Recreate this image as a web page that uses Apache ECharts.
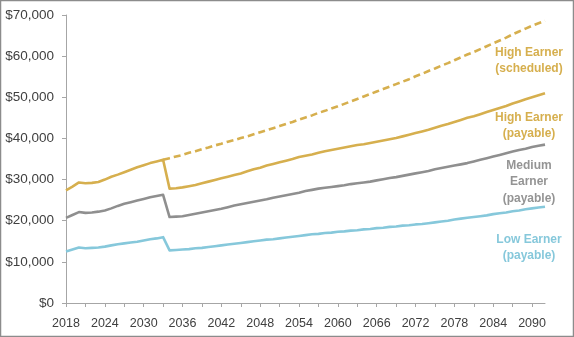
<!DOCTYPE html>
<html>
<head>
<meta charset="utf-8">
<script src="https://cdn.jsdelivr.net/npm/echarts@6/dist/echarts.min.js"></script>
<style>
html,body{margin:0;padding:0;background:#fff;}
#c{width:574px;height:337px;}
</style>
</head>
<body>
<div id="c"></div>
<script>
// Years on the category axis
const years = [];
for (let y = 2018; y <= 2092; y++) years.push(String(y));

// Values in thousands of dollars (2018..2092)
const highPayable = [
27.4,28.3,29.3,29.1,29.2,29.4,30.0,30.7,31.2,31.8,32.4,33.0,33.5,34.0,34.4,34.8,
27.8,27.9,28.1,28.4,28.7,29.1,29.5,29.9,30.3,30.7,31.1,31.5,32.0,32.5,32.9,33.4,33.8,34.2,34.6,35.0,
35.5,35.8,36.1,36.5,36.9,37.2,37.5,37.8,38.1,38.4,38.6,38.9,39.2,39.5,39.8,40.1,40.5,40.9,41.3,41.7,
42.1,42.6,43.1,43.5,44.0,44.5,45.0,45.4,45.9,46.4,46.9,47.4,47.9,48.5,49.0,49.5,50.0,50.5,51.0
];
const highScheduled = [
null,null,null,null,null,null,null,null,null,null,null,null,null,null,null,34.8,
35.2,35.6,36.0,36.5,36.9,37.4,37.8,38.3,38.7,39.2,39.6,40.1,40.5,41.0,41.5,42.0,42.5,43.0,43.5,44.0,
44.6,45.1,45.6,46.2,46.7,47.3,47.8,48.4,49.0,49.6,50.2,50.8,51.4,52.0,52.6,53.2,53.8,54.4,55.1,55.7,
56.4,57.0,57.7,58.3,59.0,59.7,60.4,61.0,61.7,62.4,63.1,63.8,64.5,65.3,66.0,66.7,67.4,68.0,68.6
];
const mediumPayable = [
20.7,21.4,22.1,21.9,22.0,22.2,22.5,23.0,23.6,24.1,24.5,24.9,25.3,25.7,26.0,26.3,
20.9,21.0,21.1,21.4,21.7,22.0,22.3,22.6,22.9,23.3,23.7,24.0,24.3,24.6,24.9,25.2,25.6,25.9,26.2,26.5,
26.8,27.2,27.5,27.8,28.0,28.2,28.4,28.6,28.9,29.1,29.3,29.5,29.8,30.1,30.4,30.6,30.9,31.2,31.5,31.8,
32.1,32.5,32.8,33.1,33.4,33.7,34.0,34.4,34.8,35.2,35.6,36.0,36.4,36.8,37.2,37.5,37.9,38.2,38.5
];
const lowPayable = [
12.5,13.0,13.5,13.3,13.4,13.5,13.7,14.0,14.3,14.5,14.7,14.9,15.2,15.5,15.7,16.0,
12.8,12.9,13.0,13.1,13.3,13.4,13.6,13.8,14.0,14.2,14.4,14.6,14.8,15.0,15.2,15.4,15.5,15.7,15.9,16.1,
16.3,16.5,16.7,16.8,17.0,17.1,17.3,17.4,17.6,17.7,17.9,18.0,18.2,18.3,18.5,18.6,18.8,18.9,19.1,19.2,
19.4,19.6,19.8,20.0,20.3,20.5,20.7,20.9,21.1,21.3,21.6,21.8,22.0,22.3,22.5,22.8,23.0,23.2,23.4
];

const yTicks = [0,10,20,30,40,50,60,70];

const GOLD = '#D6AF4E', GRAY = '#8F8F8F', BLUE = '#86C8DB';
const LABEL_GRAY = '#949494';
const AXIS_COLOR = '#A6A6A6';
const TEXT = '#404040';
const FONT = 'Liberation Sans, Arial, sans-serif';

const chart = echarts.init(document.getElementById('c'), null, {renderer:'canvas'});

function lineSeries(name, data, color, dashed) {
  return {
    name, type:'line', data, showSymbol:false, symbol:'none', connectNulls:false,
    lineStyle:{color, width:2.6, type: dashed ? [7,4] : 'solid', cap:'butt', join:'round'},
    itemStyle:{color}, z: dashed ? 3 : 4, animation:false
  };
}

function labelText(lines, x, y, color) {
  return {
    type:'text', x, y,
    style:{
      text: lines.join('\n'), fill: color, font: 'bold 12px ' + FONT,
      textAlign:'center', textVerticalAlign:'top', lineHeight:16.5
    }, z:10
  };
}

chart.setOption({
  animation:false,
  backgroundColor:'#fff',
  grid:{left:66, right:29, top:15, bottom:34, containLabel:false},
  xAxis:{
    type:'category', data:years, boundaryGap:false,
    axisLine:{lineStyle:{color:AXIS_COLOR, width:1}},
    axisTick:{show:true, interval:2, length:4, lineStyle:{color:AXIS_COLOR}},
    axisLabel:{interval:5, color:TEXT, fontFamily:FONT, fontSize:12.5, margin:14},
    splitLine:{show:false}
  },
  yAxis:{
    type:'value', min:yTicks[0], max:yTicks[yTicks.length-1], interval:10,
    axisLine:{show:true, lineStyle:{color:AXIS_COLOR, width:1}},
    axisTick:{show:true, length:4, lineStyle:{color:AXIS_COLOR}},
    axisLabel:{color:TEXT, fontFamily:FONT, fontSize:13.5, margin:12,
      formatter: v => '$' + (v*1000).toLocaleString('en-US')},
    splitLine:{show:false}
  },
  series:[
    lineSeries('High Earner (scheduled)', highScheduled, GOLD, true),
    lineSeries('High Earner (payable)', highPayable, GOLD, false),
    lineSeries('Medium Earner (payable)', mediumPayable, GRAY, false),
    lineSeries('Low Earner (payable)', lowPayable, BLUE, false)
  ],
  graphic:[
    {type:'rect', shape:{x:0.5, y:0.5, width:573, height:336}, style:{fill:'none', stroke:'#8C8C8C', lineWidth:1.5}, z:20},
    labelText(['High Earner','(scheduled)'], 529, 44, GOLD),
    labelText(['High Earner','(payable)'], 529, 109, GOLD),
    labelText(['Medium','Earner','(payable)'], 529, 157, LABEL_GRAY),
    labelText(['Low Earner','(payable)'], 529, 231, BLUE)
  ]
});
</script>
</body>
</html>
